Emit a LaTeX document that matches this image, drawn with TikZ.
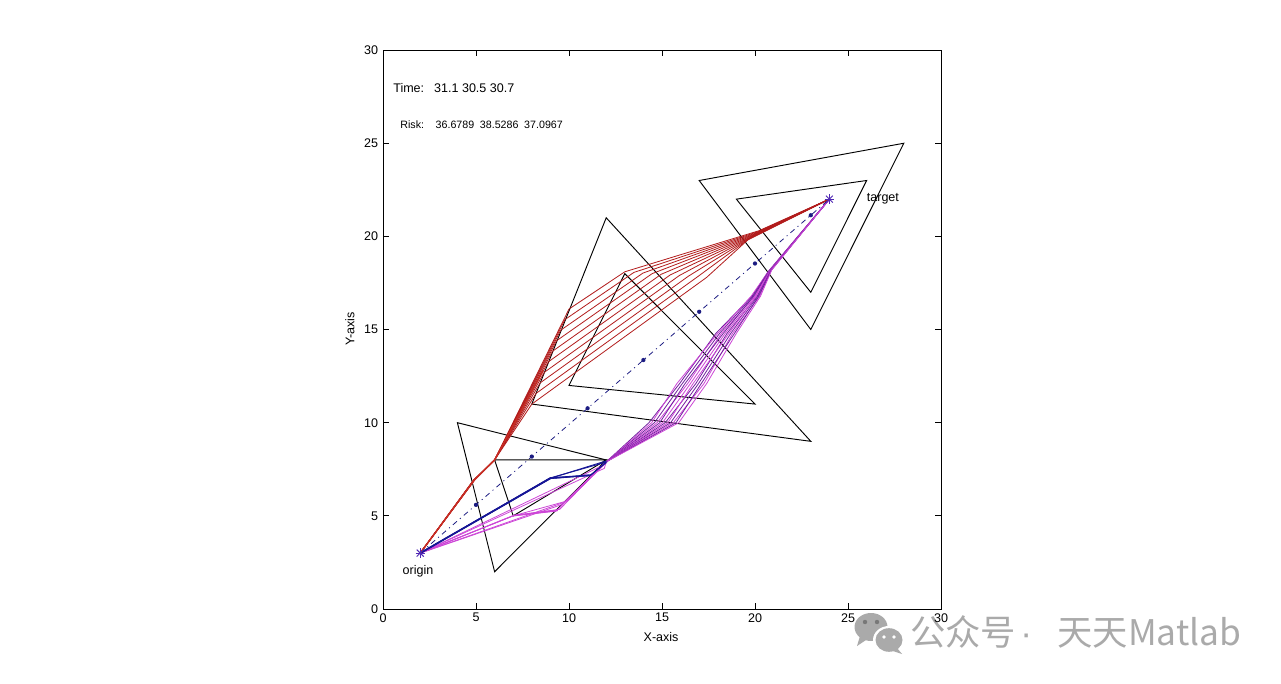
\documentclass[tikz,border=0pt]{standalone}
\usepackage{fontspec}
\setmainfont{Liberation Sans}
\newfontfamily\cjkfont{Noto Sans CJK SC}
\definecolor{redp}{RGB}{178,28,28}
\definecolor{redb}{RGB}{200,45,35}
\definecolor{bluep}{RGB}{22,22,150}
\definecolor{magp}{RGB}{205,70,215}
\definecolor{purp}{RGB}{115,30,160}
\definecolor{dashc}{RGB}{28,28,130}
\definecolor{starc}{RGB}{80,40,180}
\definecolor{wm}{RGB}{170,170,170}
\definecolor{wmdark}{RGB}{120,120,120}
\begin{document}
\begin{tikzpicture}[x=0.75pt,y=-0.75pt,
  tri/.style={black,line width=0.7pt,line join=miter},
  axisline/.style={black,line width=0.75pt},
  redline/.style={redp,line width=0.6pt,line join=round},
  blueline/.style={bluep,line width=0.7pt,line join=round},
  magline/.style={magp,line width=0.6pt,line join=round},
  ticklab/.style={font=\fontsize{9.4}{11}\selectfont,inner sep=0pt},
  plottext/.style={font=\fontsize{9.4}{11}\selectfont,inner sep=0pt,anchor=west},
  smalltext/.style={font=\fontsize{8}{10}\selectfont,inner sep=0pt,anchor=west}]
\useasboundingbox (0,0) rectangle (1281,684);
\fill[white] (0,0) rectangle (1281,684);

% ---------- watermark ----------
\fill[wm] (871,627) ellipse (16.5 and 14);
\fill[wm] (860,636) -- (866,640) -- (857,646) -- cycle;
\fill[white] (889,640) ellipse (16 and 14);
\fill[wm] (889,640) ellipse (13.5 and 11.8);
\fill[wm] (897,648) -- (902,654) -- (893,651) -- cycle;
\fill[wmdark] (865,622) circle (2.2);
\fill[wmdark] (877,622) circle (2.2);
\fill[white] (884,637) circle (1.9);
\fill[white] (894,637) circle (1.9);
\node[wm,font=\cjkfont\fontsize{26.5}{28}\selectfont,inner sep=0pt,anchor=west] (wmtext) at (910,632)
  {公众号\hspace{3pt}{\fontspec{Liberation Sans}·}\hspace{19pt}天天Matlab};

% ---------- plot in data coordinates ----------
\begin{scope}[shift={(383,609)},x=13.95pt,y=13.9725pt]
  % axes box and ticks
  \draw[axisline] (0,0) rectangle (30,30);
  \foreach \v in {0,5,...,30}{
    \draw[axisline] (\v,0) -- (\v,0.3);
    \draw[axisline] (\v,30) -- (\v,29.7);
    \draw[axisline] (0,\v) -- (0.3,\v);
    \draw[axisline] (30,\v) -- (29.7,\v);
    \node[ticklab,anchor=north] (xt\v) at (\v,-0.22) {\v};
    \node[ticklab,anchor=east] (yt\v) at (-0.25,\v) {\v};
  }
  \node[ticklab] (xlab) at (14.95,-1.5) {X-axis};
  \node[ticklab,rotate=90] (ylab) at (-1.78,15.03) {Y-axis};

  % obstacles (triangles)
  \draw[tri] (4,10) -- (6,2) -- (12,8) -- cycle;
  \draw[tri] (6,8) -- (7,5) -- (12,8) -- cycle;
  \draw[tri] (12,21) -- (8,11) -- (23,9) -- cycle;
  \draw[tri] (13,18) -- (10,12) -- (20,11) -- cycle;
  \draw[tri] (17,23) -- (28,25) -- (23,15) -- cycle;
  \draw[tri] (19,22) -- (26,23) -- (23,17) -- cycle;

  % lower bundle (continuation to target)
  \foreach \k/\bc/\p in {0/purp/1,1/magp/0,2/purp/2,3/magp/4,4/purp/3,5/magp/5,6/purp/7,7/magp/6,8/purp/8,9/magp/10,10/purp/9,11/magp/11}{
    \pgfmathsetmacro\s{\k/11}
    \pgfmathsetmacro\q{\p/11}
    \draw[color=\bc,line width=0.6pt,line join=round] (12,7.9)
      -- ({14.3+1.6*\s},10) -- ({15.8+1.6*\q},12.1) -- ({17.9+1.1*\s},14.8)
      -- ({19.8+0.5*\q},16.8) -- ({20.7+0.2*\s},{18.1+0.1*\s}) -- (24,22);
  }

  % magenta paths, first part
  \draw[magline] (2,3) -- (7,5) -- (9.3,5.25) -- (12,7.9);
  \draw[magline] (2,3) -- (7,5.02) -- (9.5,5.35) -- (11.9,7.8);
  \draw[magline] (2,3) -- (7,5) -- (9.9,5.8) -- (12,7.85);
  \draw[magp,line width=1.1pt] (7,5.01) -- (9.4,5.3);
  \draw[magline] (2,3) -- (9.6,5.6) -- (12,7.9);
  \draw[magline] (2,3) -- (9.8,5.75) -- (11.95,7.85);
  \draw[magline] (2,3) -- (11.8,7.7);
  \draw[magline] (2,3) -- (11.9,7.55) -- (12,7.9);

  % blue paths, first part
  \draw[bluep,line width=1.3pt] (2,3) -- (9,7.02);
  \draw[blueline] (2,3) -- (9,7) -- (11.2,7.2) -- (12,7.9);
  \draw[blueline] (2,3) -- (9,7.05) -- (11.1,7.15) -- (12,7.85);
  \draw[blueline] (2,3) -- (8.95,7.0) -- (12,7.95);
  \draw[blueline] (2,3) -- (9.05,7.05) -- (12.05,7.9);
  \draw[bluep,line width=1.2pt] (9,7.02) -- (11.1,7.18);

  % red paths
  \foreach \i in {0,...,9}{
    \pgfmathsetmacro\t{\i/9}
    \draw[redline] (2,3) -- ({4.85+0.1*\t},{6.9+0.05*\t}) -- (6,8)
      -- ({10-2*\t},{16.1-5.1*\t})
      -- ({13+4.4*\t},{18.1-0.3*\t}) -- ({20.2-0.6*\t},{20.3-0.5*\t}) -- (24,22);
  }
  \draw[redb,line width=1.1pt] (2,3) -- (4.9,6.92) -- (6,8);
  \draw[redb,line width=1.0pt] (6,8) -- (8.6,12.8);

  % straight reference line with dots
  \coordinate (orig) at (2,3);
  \coordinate (targ) at (24,22);
  \draw[dashc,line width=0.6pt,dash pattern=on 4pt off 3pt on 0.8pt off 3pt] (orig) -- (targ);
  \foreach \x in {5,8,...,23}{
    \fill[dashc] (\x,{3+19/22*(\x-2)}) circle[radius=1.6pt];
  }

  % star markers
  \foreach \c in {orig,targ}{
    \draw[starc,line width=0.7pt] ([xshift=-3.5pt]\c) -- ([xshift=3.5pt]\c);
    \draw[starc,line width=0.7pt] ([yshift=-3.5pt]\c) -- ([yshift=3.5pt]\c);
    \draw[starc,line width=0.7pt] ([shift={(-2.6pt,-2.6pt)}]\c) -- ([shift={(2.6pt,2.6pt)}]\c);
    \draw[starc,line width=0.7pt] ([shift={(-2.6pt,2.6pt)}]\c) -- ([shift={(2.6pt,-2.6pt)}]\c);
  }

  % texts
  \node[plottext] (timetext) at (0.54,27.97) {Time:\hspace{7.5pt}31.1 30.5 30.7};
  \node[smalltext] (risktext) at (0.92,25.98) {Risk:\hspace{8.7pt}36.6789\hspace{4.3pt}38.5286\hspace{4.3pt}37.0967};
  \node[plottext] (origintext) at (1.04,2.0) {origin};
  \node[plottext] (targettext) at (26.0,22.0) {target};
\end{scope}
\end{tikzpicture}
\end{document}
